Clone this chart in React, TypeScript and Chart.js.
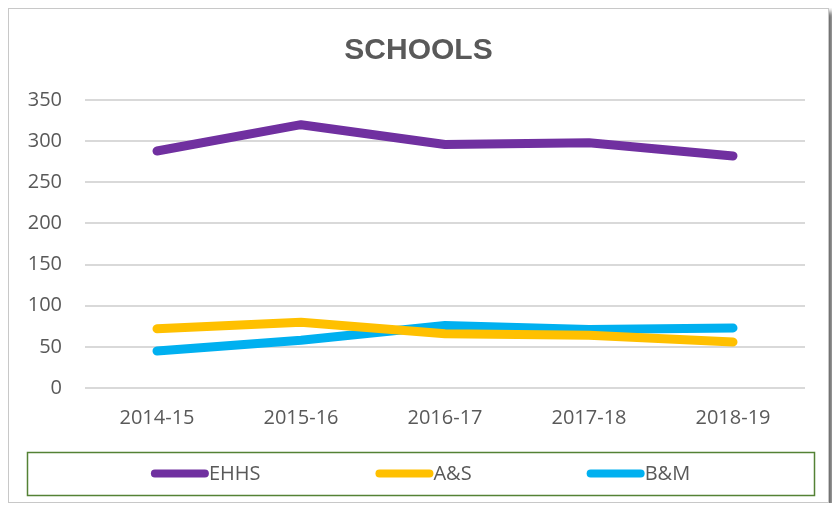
import React, { useEffect, useRef } from "react";
import { Chart, registerables } from "chart.js";

Chart.register(...registerables);

const categories = ["2014-15", "2015-16", "2016-17", "2017-18", "2018-19"];
const ehhsValues = [288, 320, 296, 298, 282];
const asValues = [72, 80, 66, 64, 56];
const bmValues = [45, 58, 76, 71, 73];
const seriesLabels = ["EHHS", "A&S", "B&M"];
const seriesColors = ["#7030A0", "#FFC000", "#00B0F0"];
const yMin = 0;
const yMax = 350;
const yStep = 50;
const titleText = "SCHOOLS";

const TEXT = "#595959";
const AXIS_FONT = "'Open Sans', 'DejaVu Sans', sans-serif";

const boxedLegend = {
  id: "boxedLegend",
  afterDraw(chart: any) {
    const ctx = chart.ctx as CanvasRenderingContext2D;
    const W = chart.width;
    const H = chart.height;
    const bx = 18;
    const bw = W - 18 - 14;
    const bh = 43;
    const by = H - 7 - bh;
    ctx.save();
    ctx.strokeStyle = "#548235";
    ctx.lineWidth = 1.5;
    ctx.strokeRect(bx + 0.5, by + 0.5, bw, bh);
    ctx.font = "20px " + AXIS_FONT;
    const items = chart.data.datasets.map((d: any) => ({
      label: d.label as string,
      color: d.borderColor as string,
      w: 58 + ctx.measureText(d.label).width,
    }));
    const gap = 115;
    const total = items.reduce((s: number, i: any) => s + i.w, 0) + gap * (items.length - 1);
    let x = bx + bw / 2 - total / 2;
    const cy = by + bh / 2;
    items.forEach((it: any) => {
      ctx.strokeStyle = it.color;
      ctx.lineWidth = 8;
      ctx.lineCap = "round";
      ctx.beginPath();
      ctx.moveTo(x + 4, cy);
      ctx.lineTo(x + 54, cy);
      ctx.stroke();
      ctx.fillStyle = TEXT;
      ctx.textBaseline = "middle";
      ctx.textAlign = "left";
      ctx.fillText(it.label, x + 58, cy + 1);
      x += it.w + gap;
    });
    ctx.restore();
  },
};

export default function App() {
  const canvasRef = useRef<HTMLCanvasElement | null>(null);

  useEffect(() => {
    if (!canvasRef.current) return;
    const values = [ehhsValues, asValues, bmValues];
    const chart = new Chart(canvasRef.current, {
      type: "line",
      data: {
        labels: categories,
        datasets: values.map((v, i) => ({
          label: seriesLabels[i],
          data: v,
          borderColor: seriesColors[i],
          backgroundColor: seriesColors[i],
          borderWidth: 9,
          borderCapStyle: "round" as const,
          borderJoinStyle: "round" as const,
          pointRadius: 0,
          pointHoverRadius: 0,
          tension: 0,
          fill: false,
          yAxisID: "y",
        })),
      },
      options: {
        animation: false,
        responsive: true,
        maintainAspectRatio: false,
        layout: { padding: { left: 0, right: 0, top: 0, bottom: 54 } },
        plugins: {
          legend: { display: false },
          tooltip: { enabled: false },
          title: {
            display: true,
            text: titleText,
            color: TEXT,
            font: { family: "'Liberation Sans', Arial, sans-serif", size: 30, weight: "bold" },
            padding: { top: 24, bottom: 31 },
          },
        },
        scales: {
          x: {
            offset: true,
            grid: { display: false, drawTicks: false },
            border: { display: false },
            ticks: {
              color: TEXT,
              font: { family: AXIS_FONT, size: 20 },
              padding: 18,
              maxRotation: 0,
            },
          },
          y: {
            min: yMin,
            max: yMax,
            grid: { color: "#D9D9D9", lineWidth: 2, drawTicks: false },
            border: { display: false },
            ticks: {
              stepSize: yStep,
              color: TEXT,
              font: { family: AXIS_FONT, size: 20 },
              padding: 23,
            },
            afterFit: (s: any) => {
              s.width = 76;
            },
          },
          yRight: {
            position: "right",
            display: true,
            grid: { display: false, drawTicks: false },
            border: { display: false },
            ticks: { display: false },
            afterFit: (s: any) => {
              s.width = 23;
            },
          },
        },
      },
      plugins: [boxedLegend],
    });
    return () => chart.destroy();
  }, []);

  return (
    <div
      style={{
        width: 819,
        height: 493,
        border: "1px solid #c8c8c8",
        boxShadow: "4px 4px 5px rgba(0,0,0,0.6)",
        background: "#fff",
        position: "relative",
      }}
    >
      <div style={{ position: "relative", width: 819, height: 493 }}>
        <canvas ref={canvasRef} />
      </div>
    </div>
  );
}
